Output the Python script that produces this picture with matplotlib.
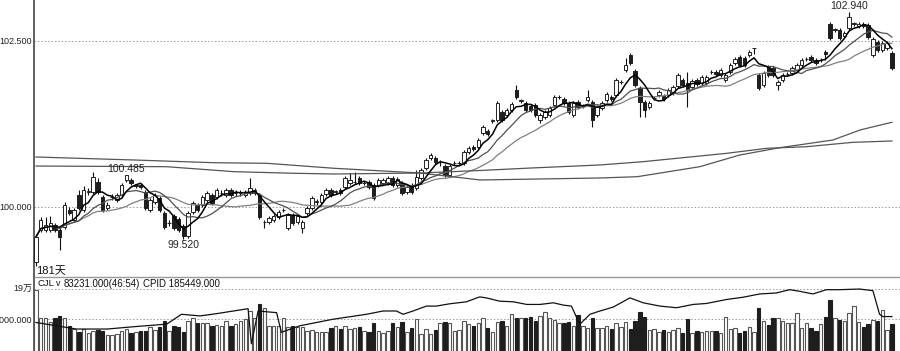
import numpy as np
import pandas as pd
import matplotlib
matplotlib.use("Agg")
import matplotlib.pyplot as plt

plt.rcParams['font.family'] = ['Liberation Sans', 'DejaVu Sans', 'Noto Sans CJK SC']

# ---------------- data ----------------
opens = [99.17,99.65,99.65,99.65,99.73,99.65,99.70,99.95,99.80,100.18,
         99.95,100.23,100.23,100.38,100.15,99.98,100.15,100.11,100.18,100.41,
         100.41,100.32,100.33,100.23,99.95,100.08,100.14,99.91,99.76,99.86,
         99.82,99.71,99.56,99.92,100.03,100.03,100.11,100.18,100.15,100.21,
         100.18,100.26,100.21,100.21,100.18,100.21,100.21,100.18,99.77,99.77,
         99.80,99.85,99.95,99.68,99.88,99.77,99.68,99.91,99.98,100.08,
         100.08,100.20,100.26,100.23,100.26,100.30,100.36,100.38,100.44,100.36,
         100.38,100.33,100.33,100.36,100.36,100.44,100.33,100.36,100.23,100.33,
         100.29,100.44,100.59,100.74,100.74,100.68,100.62,100.48,100.66,100.66,
         100.66,100.83,100.90,100.90,101.11,101.14,101.30,101.31,101.43,101.39,
         101.46,101.76,101.60,101.57,101.52,101.54,101.31,101.36,101.39,101.54,
         101.66,101.63,101.57,101.39,101.58,101.52,101.61,101.58,101.39,101.49,
         101.61,101.66,101.69,101.88,102.06,102.29,102.05,101.79,101.58,101.51,
         101.64,101.69,101.67,101.69,101.72,101.82,101.91,101.87,101.81,101.91,
         101.87,101.87,102.03,102.03,101.99,101.91,102.03,102.17,102.26,102.24,
         102.29,102.39,101.99,101.84,102.11,102.09,101.84,101.91,102.00,102.02,
         102.06,102.14,102.23,102.26,102.21,102.21,102.33,102.76,102.67,102.67,
         102.58,102.70,102.76,102.73,102.76,102.74,102.29,102.48,102.36,102.39,
         102.32]
closes = [99.55,99.80,99.73,99.76,99.65,99.55,100.03,99.91,99.95,99.98,
          100.26,100.23,100.45,100.23,99.95,100.03,100.15,100.18,100.33,100.48,
          100.36,100.32,100.30,99.98,100.11,100.18,99.95,99.70,99.76,99.68,
          99.65,99.56,99.91,100.06,99.95,100.15,100.21,100.06,100.26,100.21,
          100.26,100.18,100.21,100.21,100.23,100.29,100.26,99.85,99.77,99.83,
          99.86,99.92,99.95,99.88,99.76,99.86,99.77,99.98,100.14,100.08,
          100.18,100.26,100.18,100.23,100.21,100.44,100.41,100.38,100.36,100.36,
          100.30,100.14,100.41,100.41,100.44,100.33,100.42,100.21,100.30,100.23,
          100.45,100.56,100.71,100.78,100.68,100.68,100.48,100.62,100.66,100.66,
          100.83,100.89,100.87,101.01,101.20,101.10,101.30,101.57,101.31,101.46,
          101.55,101.66,101.60,101.46,101.46,101.39,101.39,101.43,101.49,101.66,
          101.66,101.57,101.43,101.57,101.51,101.52,101.66,101.31,101.51,101.57,
          101.70,101.63,101.91,101.88,102.14,102.17,101.84,101.58,101.46,101.57,
          101.64,101.73,101.63,101.76,101.81,101.99,101.84,101.76,101.90,101.85,
          101.96,101.96,102.03,102.00,102.06,101.99,102.14,102.23,102.14,102.14,
          102.33,102.39,101.79,102.02,101.99,101.99,101.88,101.99,102.00,102.09,
          102.14,102.21,102.23,102.21,102.17,102.21,102.30,102.55,102.67,102.55,
          102.62,102.86,102.76,102.76,102.73,102.56,102.53,102.36,102.47,102.47,
          102.09]
highs = [99.59,99.85,99.85,99.86,99.76,99.68,100.08,100.00,99.98,100.26,
         100.32,100.28,100.53,100.44,100.18,100.08,100.20,100.21,100.36,100.485,
         100.44,100.35,100.36,100.26,100.14,100.21,100.17,99.94,99.80,99.89,
         99.85,99.74,99.94,100.09,100.06,100.18,100.24,100.21,100.29,100.26,
         100.29,100.29,100.25,100.25,100.26,100.44,100.29,100.21,99.80,99.86,
         99.89,99.95,99.98,99.91,99.91,99.89,99.80,100.02,100.17,100.12,
         100.21,100.29,100.29,100.26,100.29,100.47,100.51,100.53,100.47,100.39,
         100.41,100.36,100.44,100.44,100.47,100.47,100.45,100.39,100.33,100.36,
         100.56,100.59,100.74,100.81,100.77,100.71,100.65,100.65,100.69,100.69,
         100.86,100.92,100.93,101.04,101.23,101.17,101.33,101.60,101.46,101.49,
         101.58,101.84,101.63,101.60,101.55,101.57,101.42,101.46,101.52,101.69,
         101.69,101.66,101.60,101.60,101.61,101.55,101.76,101.61,101.54,101.60,
         101.73,101.69,101.94,101.91,102.24,102.32,102.08,101.82,101.61,101.60,
         101.67,101.76,101.70,101.79,101.84,102.02,101.94,102.03,101.93,101.94,
         101.99,101.99,102.06,102.06,102.09,102.02,102.17,102.26,102.29,102.27,
         102.36,102.40,102.02,102.05,102.14,102.12,101.91,102.02,102.03,102.12,
         102.17,102.24,102.26,102.29,102.24,102.24,102.36,102.79,102.70,102.70,
         102.65,102.94,102.79,102.79,102.79,102.77,102.56,102.51,102.50,102.50,
         102.35]
lows = [99.11,99.62,99.62,99.62,99.62,99.35,99.67,99.88,99.77,99.95,
        99.92,100.18,100.20,100.20,99.92,99.95,100.11,100.08,100.15,100.38,
        100.33,100.29,100.27,99.95,99.92,100.05,99.92,99.67,99.71,99.65,
        99.62,99.52,99.53,99.89,99.92,100.00,100.08,100.03,100.12,100.17,
        100.15,100.15,100.17,100.17,100.15,100.18,100.18,99.82,99.68,99.74,
        99.77,99.82,99.92,99.65,99.73,99.74,99.61,99.88,99.95,100.03,
        100.05,100.17,100.15,100.20,100.18,100.27,100.33,100.35,100.33,100.33,
        100.27,100.11,100.30,100.33,100.33,100.30,100.30,100.18,100.20,100.20,
        100.26,100.41,100.56,100.71,100.65,100.62,100.45,100.45,100.63,100.63,
        100.63,100.80,100.84,100.87,101.08,101.07,101.26,101.28,101.28,101.36,
        101.43,101.63,101.56,101.43,101.43,101.36,101.27,101.33,101.36,101.51,
        101.63,101.54,101.40,101.36,101.48,101.49,101.58,101.20,101.36,101.46,
        101.58,101.60,101.66,101.85,102.03,102.14,101.81,101.36,101.36,101.48,
        101.61,101.66,101.60,101.66,101.69,101.79,101.81,101.51,101.78,101.82,
        101.84,101.84,102.00,101.97,101.96,101.88,102.00,102.14,102.11,102.11,
        102.26,102.30,101.76,101.81,101.96,101.96,101.76,101.88,101.97,101.99,
        102.03,102.11,102.20,102.18,102.14,102.18,102.21,102.52,102.64,102.52,
        102.55,102.67,102.73,102.70,102.70,102.53,102.26,102.33,102.33,102.36,
        102.06]
volumes_k = [187,102,100,87,102,107,102,77,67,57,67,54,62,64,62,49,49,52,62,66,
             54,59,60,62,72,64,72,90,62,77,72,57,90,102,84,84,84,77,80,77,
             90,77,82,92,97,122,102,142,132,77,77,77,102,74,77,72,72,62,64,57,
             59,57,70,77,67,77,67,69,72,62,57,84,62,54,60,84,72,87,57,69,
             97,52,66,52,64,84,87,84,62,64,90,82,77,84,100,70,57,87,90,77,
             112,102,102,102,105,92,107,120,100,94,84,84,87,77,109,77,70,100,70,70,
             77,67,84,72,87,67,92,120,104,65,67,57,65,57,64,69,55,97,54,60,
             58,62,60,60,55,104,67,69,54,62,74,57,132,90,79,102,102,92,84,84,
             117,69,84,70,62,82,105,155,102,94,90,117,137,89,74,82,94,92,125,64,
             83.231]

# long moving averages (sparse readings: candle index, price)
ma_a_idx = [0, 20.6, 37.4, 48.6, 62.7, 80.7, 93.4, 106, 118.6, 126.4, 139.6, 148, 156.4, 167.6, 173.3, 180]
ma_a_val = [100.753, 100.708, 100.667, 100.658, 100.583, 100.512, 100.407, 100.422, 100.437, 100.456,
            100.607, 100.783, 100.893, 101.009, 101.160, 101.276]
ma_b_idx = [0, 27.5, 41.6, 54.2, 62.7, 80.7, 93.4, 104, 118.6, 127.6, 136, 145.3, 153.7, 162, 171.8, 180]
ma_b_val = [100.617, 100.607, 100.532, 100.508, 100.497, 100.512, 100.550, 100.587, 100.633, 100.682,
            100.742, 100.809, 100.884, 100.908, 100.974, 100.994]

# CPID line in the volume panel (candle index, value in thousands)
cpid_idx = [0, 6.4, 8.5, 15, 20.5, 27.5, 30.6, 34.5, 38, 41.5, 44.6, 45.3, 46.7, 50.6, 51.6, 55.5,
            62.5, 69.5, 73, 75.8, 77.2, 79.3, 82.1, 84.2, 87, 90.5, 93.3, 94.7, 97.5, 100.4, 103.2,
            106, 108.8, 110.9, 112.6, 113.7, 114.4, 116.5, 118.6, 121.4, 124.9, 127.7, 131.2, 134.7,
            138.2, 141, 145.2, 148.7, 152.2, 155.7, 158.5, 160.6, 163.4, 166.2, 169, 173.2, 176,
            177.4, 178.1, 180]
cpid_k = [87, 72, 67, 67, 74, 82, 112, 107, 114, 122, 129, 22, 122, 117, 57, 77,
          97, 112, 122, 122, 112, 122, 137, 137, 144, 150, 165, 162, 152, 150, 142,
          142, 147, 140, 137, 102, 82, 112, 122, 134, 162, 147, 137, 132,
          142, 145, 157, 164, 174, 177, 187, 182, 174, 187, 187, 189, 184,
          112, 105, 105]

price_ticks = [100.0, 102.5]
price_tick_labels = ['100.000', '102.500']
vol_ticks = [97000, 190000]
vol_tick_labels = ['97000.000', '19万']

annotations = [(19, 100.485, '100.485', 'high'), (31, 99.52, '99.520', 'low'), (171, 102.94, '102.940', 'high')]

# ---------------- figure ----------------
W, H = 900, 351
fig = plt.figure(figsize=(W / 100, H / 100), dpi=100)
fig.patch.set_facecolor('white')

axp = fig.add_axes([34 / W, 74 / H, 866 / W, 277 / H])
axv = fig.add_axes([34 / W, 0, 866 / W, 74 / H])

o = np.array(opens); c = np.array(closes); hi = np.array(highs); lo = np.array(lows)
n = len(o)
x = np.arange(n)
up = c >= o

# wicks
axp.vlines(x, lo, hi, color='#111111', linewidth=0.8, zorder=2)
# bodies
body_bottom = np.minimum(o, c)
body_h = np.maximum(np.abs(c - o), 0.004)
axp.bar(x[up], body_h[up], bottom=body_bottom[up], width=0.72, color='white',
        edgecolor='#222222', linewidth=0.7, zorder=3)
axp.bar(x[~up], body_h[~up], bottom=body_bottom[~up], width=0.72, color='#1e1e1e',
        edgecolor='#1e1e1e', linewidth=0.7, zorder=3)

# moving averages
s = pd.Series(c)
axp.plot(x, s.rolling(20, min_periods=1).mean(), color='#808080', lw=0.9, zorder=4)
axp.plot(x, s.rolling(10, min_periods=1).mean(), color='#505050', lw=0.9, zorder=4)
axp.plot(x, s.rolling(5, min_periods=1).mean(), color='#000000', lw=1.1, zorder=5)
axp.plot(ma_a_idx, ma_a_val, color='#555555', lw=0.9, zorder=4)
axp.plot(ma_b_idx, ma_b_val, color='#555555', lw=0.9, zorder=4)

for xi, val, txt, kind in annotations:
    if kind == 'high':
        axp.annotate(txt, (xi, val), xytext=(0, 0.5), textcoords='offset points',
                     ha='center', va='bottom', fontsize=7.5, color='#222222', zorder=6)
    else:
        axp.annotate(txt, (xi, val), xytext=(0, -1), textcoords='offset points',
                     ha='center', va='top', fontsize=7.5, color='#222222', zorder=6)

y0 = 100 - 70 / 66.4
y1 = 100 + 207 / 66.4
axp.set_ylim(y0, y1)
axp.set_xlim(-0.42, 181.7)
axp.set_xticks([])
axp.set_yticks(price_ticks)
axp.set_yticklabels(price_tick_labels, fontsize=6.5, color='#222222')
axp.tick_params(axis='y', length=0, pad=1.5)
for yv in price_ticks:
    axp.axhline(yv, color='#9a9a9a', lw=0.7, linestyle=(0, (1.5, 2)), zorder=1)
for sp in ['top', 'right', 'bottom']:
    axp.spines[sp].set_visible(False)
axp.spines['left'].set_color('#444444')
axp.spines['left'].set_linewidth(1.2)

# volume panel
vols = np.array(volumes_k) * 1000
axv.bar(x[up], vols[up], width=0.72, color='white', edgecolor='#555555', linewidth=0.8, zorder=3)
axv.bar(x[~up], vols[~up], width=0.72, color='#1e1e1e', edgecolor='#1e1e1e', linewidth=0.8, zorder=3)
axv.plot(cpid_idx, np.array(cpid_k) * 1000, color='#111111', lw=0.9, zorder=4)
axv.set_xlim(-0.42, 181.7)
axv.set_ylim(0, 74 * 3050)
axv.set_xticks([])
axv.set_yticks(vol_ticks)
axv.set_yticklabels(vol_tick_labels, fontsize=6.5, color='#222222')
axv.tick_params(axis='y', length=0, pad=1.5)
for yv in vol_ticks:
    axv.axhline(yv, color='#9a9a9a', lw=0.7, linestyle=(0, (1.5, 2)), zorder=1)
for sp in ['right', 'bottom']:
    axv.spines[sp].set_visible(False)
axv.spines['top'].set_color('#999999')
axv.spines['top'].set_linewidth(1.0)
axv.spines['left'].set_color('#444444')
axv.spines['left'].set_linewidth(1.2)

fig.text(36 / W, 1 - 271 / H, '181天', fontsize=8, va='center', ha='left', color='#111111')
fig.text(37 / W, 1 - 284 / H, 'CJL', fontsize=6.8, va='center', ha='left', color='#111111')
fig.text(56 / W, 1 - 284 / H, 'v', fontsize=6.3, va='center', ha='left', color='#111111')
fig.text(64 / W, 1 - 284 / H, '83231.000(46:54)', fontsize=7, va='center', ha='left', color='#111111')
fig.text(143 / W, 1 - 284 / H, 'CPID 185449.000', fontsize=7, va='center', ha='left', color='#111111')

fig.savefig('out.png', dpi=100, facecolor='white')
